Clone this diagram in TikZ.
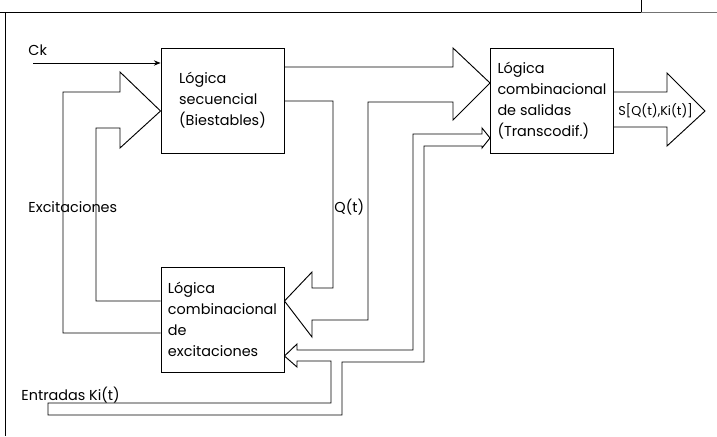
\documentclass[tikz,border=0pt]{standalone}
\usepackage{fontspec}
\setmainfont{Poppins}
\usepackage{tikz}
\usetikzlibrary{positioning,arrows.meta,calc}

\begin{document}
\begin{tikzpicture}[
    x=0.75pt, y=-0.75pt, line width=0.7pt,
    blk/.style={draw, minimum width=92.25pt, minimum height=78.75pt, inner sep=0pt, align=left,
                font=\fontsize{10.8}{15.75}\selectfont},
    lbl/.style={anchor=west, inner sep=0pt, font=\fontsize{10.8}{12}\selectfont},
  ]
  \useasboundingbox (0,0) rectangle (717,436);
  % marco
  \draw (0,12) -- (641,12) (641,0) -- (641,12) (5,12) -- (5,436);
  \draw[black!55] (641,12) -- (717,12);

  % bloques
  \node[blk] (seq) at (222.5,100.5) {Lógica\\secuencial\\(Biestables)};
  \node[blk] (sal) at (552,100.5)   {Lógica\\combinacional\\de salidas\\(Transcodif.)};
  \node[blk] (exc) at (222.5,319.5) {Lógica\\combinacional\\de\\excitaciones};

  % reloj
  \coordinate (ck) at (33,63);
  \node[lbl] (ckl) at (28,50) {Ck};
  \draw[-{Stealth[length=5pt,width=4pt]}] (ck) -- (seq.west |- ck);

  % excitaciones
  \draw (exc.west |- 0,333) -- (63,333) -- (63,92) -- (120,92) -- (120,72) -- (seq.west |- 0,111)
        -- (120,148) -- (120,128) -- (96,128) -- (96,301) -- (exc.west |- 0,301);
  \node[lbl] (excl) at (28,207) {Excitaciones};

  % Q(t)
  \draw (seq.east |- 0,67) -- (453,67) -- (453,48) -- (sal.west |- 0,83) -- (453,120) -- (453,102)
        -- (368,102) -- (368,320) -- (312,320) -- (312,337) -- (exc.east |- 0,301) -- (312,272)
        -- (312,288) -- (333,288) -- (333,101) -- (seq.east |- 0,101);
  \node[lbl] (ql) at (334,207) {Q(t)};

  % entradas
  \draw (48,403) -- (331,403) -- (331,361) -- (297,361) -- (297,367) -- (exc.east |- 0,356)
        -- (297,344) -- (297,350) -- (413,350) -- (413,134) -- (482,134) -- (482,128)
        -- (sal.west |- 0,138) -- (482,148) -- (482,146) -- (424,146) -- (424,362) -- (342,362)
        -- (342,415) -- (48,415) -- cycle;
  \node[lbl] (entl) at (21,395) {Entradas Ki(t)};

  % salidas
  \draw (sal.east |- 0,92) -- (667,92) -- (667,73) -- (705,111) -- (667,146) -- (667,127)
        -- (sal.east |- 0,127);
  \node[lbl, font=\fontsize{9.6}{12}\selectfont] (sl) at (618,111) {S[Q(t),Ki(t)]};
\end{tikzpicture}
\end{document}
